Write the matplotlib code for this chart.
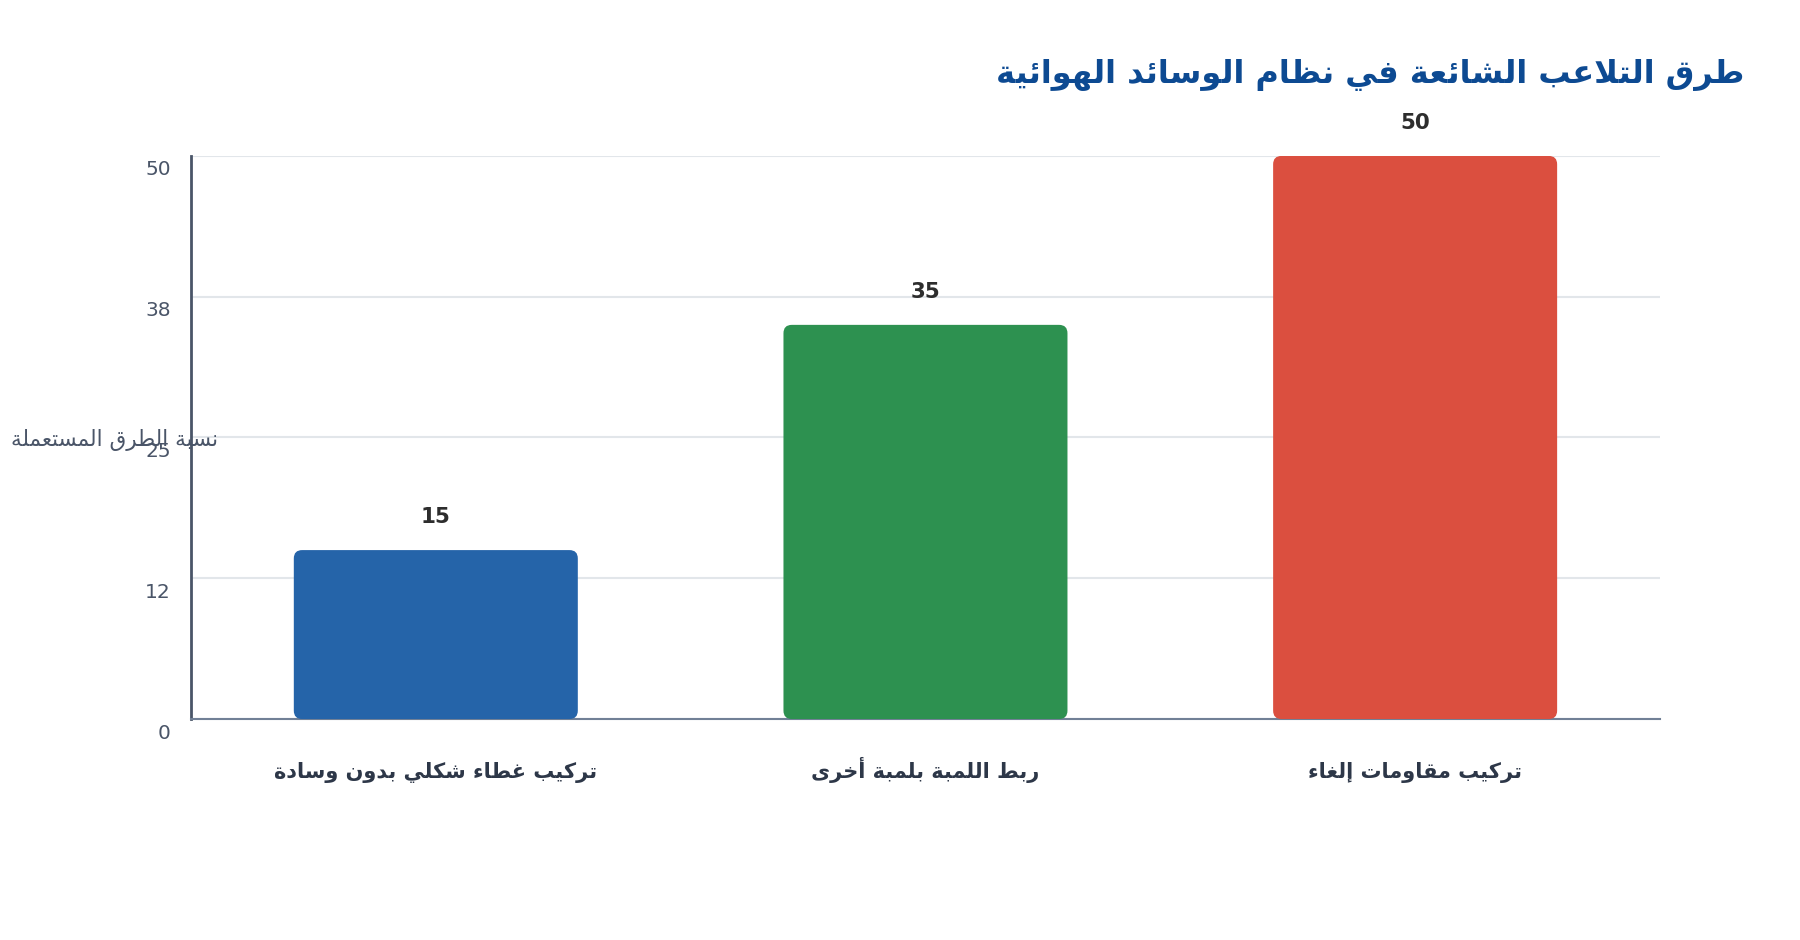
import matplotlib
matplotlib.use("Agg")
import matplotlib.pyplot as plt
from matplotlib.patches import FancyBboxPatch

title = "طرق التلاعب الشائعة في نظام الوسائد الهوائية"
y_label = "نسبة الطرق المستعملة"
categories = ["تركيب غطاء شكلي بدون وسادة", "ربط اللمبة بلمبة أخرى", "تركيب مقاومات إلغاء"]
values = [15, 35, 50]
colors = ["#2564A9", "#2D9150", "#DB4F3F"]
y_ticks = [0, 12.5, 25, 37.5, 50]
y_tick_labels = ["0", "12", "25", "38", "50"]

# --- small arabic shaper (presentation forms), matplotlib does no shaping ---
_forms = {}
for ch, start in [("ء", 0xFE80)]:
    _forms[ch] = [start]
for ch, start in [("آ", 0xFE81), ("أ", 0xFE83), ("ؤ", 0xFE85), ("إ", 0xFE87), ("ا", 0xFE8D),
                  ("ة", 0xFE93), ("د", 0xFEA9), ("ذ", 0xFEAB), ("ر", 0xFEAD), ("ز", 0xFEAF),
                  ("و", 0xFEED), ("ى", 0xFEEF)]:
    _forms[ch] = [start, start + 1]
for ch, start in [("ئ", 0xFE89), ("ب", 0xFE8F), ("ت", 0xFE95), ("ث", 0xFE99), ("ج", 0xFE9D),
                  ("ح", 0xFEA1), ("خ", 0xFEA5), ("س", 0xFEB1), ("ش", 0xFEB5), ("ص", 0xFEB9),
                  ("ض", 0xFEBD), ("ط", 0xFEC1), ("ظ", 0xFEC5), ("ع", 0xFEC9), ("غ", 0xFECD),
                  ("ف", 0xFED1), ("ق", 0xFED5), ("ك", 0xFED9), ("ل", 0xFEDD), ("م", 0xFEE1),
                  ("ن", 0xFEE5), ("ه", 0xFEE9), ("ي", 0xFEF1)]:
    _forms[ch] = [start, start + 1, start + 2, start + 3]
_lam_alef = {"آ": 0xFEF5, "أ": 0xFEF7, "إ": 0xFEF9, "ا": 0xFEFB}


def shape(text):
    chars = list(text)
    # merge lam + alef into one token
    tokens = []
    i = 0
    while i < len(chars):
        if chars[i] == "ل" and i + 1 < len(chars) and chars[i + 1] in _lam_alef:
            tokens.append(("LA", chars[i + 1]))
            i += 2
        else:
            tokens.append(("C", chars[i]))
            i += 1

    def nforms(tok):
        if tok[0] == "LA":
            return 2
        return len(_forms.get(tok[1], []))

    out = []
    for k, tok in enumerate(tokens):
        n = nforms(tok)
        prev_j = k > 0 and nforms(tokens[k - 1]) == 4 and n >= 2
        next_j = n == 4 and k + 1 < len(tokens) and nforms(tokens[k + 1]) >= 2
        if tok[0] == "LA":
            base = _lam_alef[tok[1]]
            out.append(chr(base + (1 if prev_j else 0)))
            continue
        if n == 0:
            out.append(tok[1])
            continue
        f = _forms[tok[1]]
        if prev_j and next_j:
            out.append(chr(f[3]))
        elif prev_j:
            out.append(chr(f[1]))
        elif next_j:
            out.append(chr(f[2]))
        else:
            out.append(chr(f[0]))
    return "".join(out)[::-1]


plt.rcParams["font.family"] = ["DejaVu Sans"]

fig = plt.figure(figsize=(18, 9.4), dpi=100, facecolor="white")
ax = fig.add_axes([0.1061, 0.2351, 0.8161, 0.599])

x = list(range(len(categories)))
bars = ax.bar(x, values, width=0.58, color=colors, zorder=3)

# swap plain rectangles for rounded ones
for b, c in zip(bars, colors):
    b.set_visible(False)
    p = FancyBboxPatch((b.get_x(), b.get_y()), b.get_width(), b.get_height(),
                       boxstyle="round,pad=0,rounding_size=0.017",
                       mutation_aspect=43.5, facecolor=c, edgecolor="none", zorder=3)
    ax.add_patch(p)

ax.set_xlim(-0.5, 2.5)
ax.set_ylim(0, 50)

ax.set_yticks(y_ticks)
ax.set_yticklabels([])
ax.tick_params(axis="y", length=0)
ax.grid(axis="y", color="#e2e6ea", linewidth=1.5, zorder=0)
ax.set_axisbelow(True)

for v, lab in zip(y_ticks, y_tick_labels):
    ax.annotate(lab, (0, v), xycoords=("axes fraction", "data"),
                xytext=(-20 * 0.72, -14 * 0.72), textcoords="offset points",
                ha="right", va="center", fontsize=14.5, color="#4a5568")

ax.set_xticks(x)
ax.set_xticklabels([shape(c) for c in categories], fontsize=15, fontweight="bold",
                   color="#2d3748", va="baseline")
ax.tick_params(axis="x", length=0, pad=42.7)

for side in ["top", "right"]:
    ax.spines[side].set_visible(False)
ax.spines["left"].set_color("#4a5568")
ax.spines["left"].set_linewidth(2)
ax.spines["bottom"].set_color("#718096")
ax.spines["bottom"].set_linewidth(1.5)

for xi, v in zip(x, values):
    ax.annotate(str(v), (xi, v), xytext=(0, 24), textcoords="offset points",
                ha="center", va="center", fontsize=15.5, fontweight="bold", color="#2d2d2d")

fig.text(115 / 1800, 1 - 440 / 940, shape(y_label), ha="center", va="center",
         fontsize=15.5, color="#4a5568")

fig.text(1744 / 1800, 1 - 75 / 940, shape(title), ha="right", va="center",
         fontsize=23, fontweight="bold", color="#0D4A92")

fig.savefig("out.png", dpi=100, facecolor="white")
